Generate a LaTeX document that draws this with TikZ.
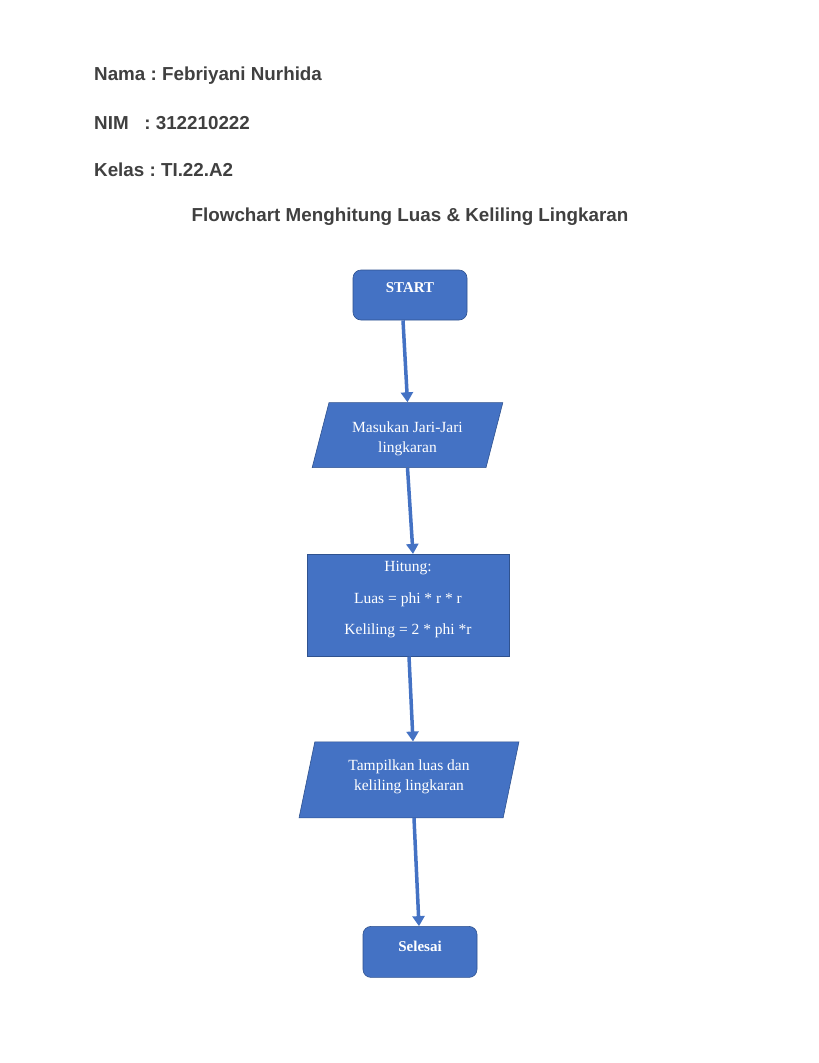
\documentclass[tikz,border=0pt]{standalone}
\usepackage{fontspec}
\setmainfont{Liberation Serif}
\newfontfamily\headfont{Liberation Sans}
\frenchspacing
\usetikzlibrary{positioning,shapes.geometric,arrows.meta}
\definecolor{boxblue}{HTML}{4472C4}
\definecolor{edgeblue}{HTML}{2F528F}
\definecolor{headgrey}{HTML}{404040}
\tikzset{
	termbox/.style={shape=rectangle,rounded corners=8pt,draw=edgeblue,fill=boxblue,line width=0.6pt,text=white,font=\fontsize{15}{17}\selectfont\bfseries,minimum width=114pt,minimum height=50pt,inner sep=0pt},
	iobox/.style={shape=trapezium,trapezium stretches=true,draw=edgeblue,fill=boxblue,line width=0.6pt,text=white,font=\fontsize{15.5}{20}\selectfont,align=center,inner sep=0pt},
	procbox/.style={shape=rectangle,draw=edgeblue,fill=boxblue,line width=0.6pt,text=white,font=\fontsize{15.5}{18}\selectfont,align=center,minimum width=202pt,minimum height=102pt,inner sep=0pt},
	headline/.style={anchor=west,text=headgrey,font=\headfont\fontsize{18.8}{22}\selectfont\bfseries,inner sep=0pt},
	flow/.style={draw=boxblue,line width=3.5pt,-{Triangle[width=12pt,length=10pt]}}
}
\begin{document}
\begin{tikzpicture}[x=1pt,y=-1pt]
		\useasboundingbox[fill=white] (0,0) rectangle (819,1063);
		\node[headline] (nama) at (94,76) {Nama : Febriyani Nurhida};
		\node[headline] (nim) at (94,123) {NIM \ \ : 312210222};
		\node[headline] (kelas) at (94,170) {Kelas : TI.22.A2};
		\node[headline,anchor=center] (judul) at (410,217) {Flowchart Menghitung Luas \& Keliling Lingkaran};

		\node[termbox,text depth=14pt] (start) at (410,295) {START};
		\node[iobox,trapezium left angle=74,trapezium right angle=106,minimum width=191pt,minimum height=65pt,text height=38pt] (input) [below=82pt of start,xshift=-2.5pt] {Masukan Jari-Jari\\lingkaran};
		\node[procbox,text depth=14pt] (hitung) [below=86pt of input,xshift=0.5pt] {Hitung:\\[14pt]Luas = phi * r * r\\[13pt]Keliling = 2 * phi *r};
		\node[iobox,trapezium left angle=76,trapezium right angle=104,minimum width=220pt,minimum height=76pt,text depth=10pt] (output) [below=85pt of hitung,xshift=1pt] {Tampilkan luas dan\\keliling lingkaran};
		\node[termbox,minimum height=51pt,text depth=11pt] (stop) [below=108pt of output,xshift=11pt] {Selesai};

		\draw[flow] ([xshift=-7pt]start.south) -- (input.north);
		\draw[flow] (input.south) -- ([xshift=5pt]hitung.north);
		\draw[flow] ([xshift=1pt]hitung.south) -- ([xshift=4pt]output.north);
		\draw[flow] ([xshift=5pt]output.south) -- ([xshift=-1pt]stop.north);
		\end{tikzpicture}
\end{document}
